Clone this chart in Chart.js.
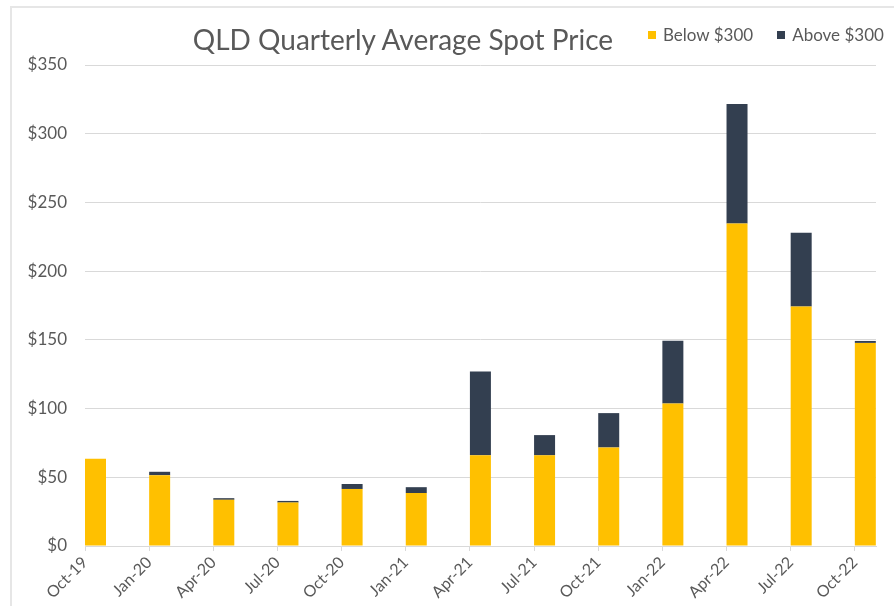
<!DOCTYPE html>
<html>
<head>
<meta charset="utf-8">
<script src="https://cdn.jsdelivr.net/npm/chart.js@4"></script>
<style>
    body { margin: 0; background: #fff; font-family: Lato, "Open Sans", sans-serif; }
    .frame { position: absolute; left: 10px; top: 6px; width: 884px; height: 600px; border-left: 2px solid #e6e6e6; border-top: 2px solid #e6e6e6; }
    .wrap { position: absolute; left: 0; top: 0; width: 894px; height: 606px; }
    .title { position: absolute; left: 173px; top: 22px; width: 460px; text-align: center; font-size: 28px; color: #595959; white-space: nowrap; }
    .legend { position: absolute; top: 24px; left: 648px; display: flex; font-size: 17px; color: #595959; }
    .legend-item { display: flex; align-items: center; margin-right: 24px; }
    .legend-item:last-child { margin-right: 0; }
    .legend-box { width: 8px; height: 8px; margin-right: 7px; }
</style>
</head>
<body>
<div class="frame"></div>
<div class="wrap">
    <canvas id="chart" width="894" height="606"></canvas>
</div>
<div class="title">QLD Quarterly Average Spot Price</div>
<div class="legend"></div>
<script>
let quarters = ['Oct-19', 'Jan-20', 'Apr-20', 'Jul-20', 'Oct-20', 'Jan-21', 'Apr-21', 'Jul-21', 'Oct-21', 'Jan-22', 'Apr-22', 'Jul-22', 'Oct-22'];
let belowValues = [63.5, 51.5, 33.6, 31.6, 41.5, 38.5, 66, 66, 71.7, 103.6, 234.6, 174.2, 147.8];
let aboveValues = [0, 2.5, 1.2, 1.2, 3.6, 4.3, 61, 14.7, 25, 45.7, 87.1, 53.7, 1.4];
let yTicks = [0, 50, 100, 150, 200, 250, 300, 350];

let yellow = '#FFC000';
let navy = '#333F50';
let grey = '#595959';
let gridColor = '#d9d9d9';

// bars sit to the right of their date tick, like an excel date axis
let shiftBars = {
    id: 'shiftBars',
    beforeDatasetsDraw(chart) {
        let bar = chart.getDatasetMeta(0).data[0];
        chart.ctx.save();
        chart.ctx.translate(bar.width / 2, 0);
    },
    afterDatasetsDraw(chart) {
        chart.ctx.restore();
    }
};

let toPoints = values => values.map((v, i) => ({ x: i, y: v }));

const myChart = new Chart(document.getElementById('chart'), {
    type: 'bar',
    data: {
        datasets: [
            { label: 'Below $300', data: toPoints(belowValues), backgroundColor: yellow, barThickness: 21, clip: false, inflateAmount: 0 },
            { label: 'Above $300', data: toPoints(aboveValues), backgroundColor: navy, barThickness: 21, clip: false, inflateAmount: 0 }
        ]
    },
    options: {
        responsive: false,
        animation: false,
        layout: { padding: { left: 0, right: 18, top: 65, bottom: 0 } },
        plugins: {
            legend: { display: false },
            title: { display: false },
            tooltip: { enabled: false }
        },
        scales: {
            x: {
                type: 'linear',
                stacked: true,
                offset: false,
                min: 0,
                max: quarters.length - 1 + 0.33,
                afterFit: scale => { scale.height = 60; },
                border: { color: gridColor },
                grid: { drawOnChartArea: false, drawTicks: true, tickLength: 5, color: gridColor, offset: false },
                ticks: {
                    stepSize: 1,
                    includeBounds: false,
                    autoSkip: false,
                    minRotation: 45,
                    maxRotation: 45,
                    padding: 2,
                    color: grey,
                    font: { family: 'Lato', size: 16 },
                    callback: v => quarters[v]
                }
            },
            y: {
                stacked: true,
                min: yTicks[0],
                max: yTicks[yTicks.length - 1],
                afterFit: scale => { scale.width = 85; },
                afterBuildTicks: scale => { scale.ticks = yTicks.map(v => ({ value: v })); },
                border: { display: false },
                grid: { color: gridColor, drawTicks: false },
                ticks: {
                    padding: 18,
                    color: grey,
                    font: { family: 'Lato', size: 17 },
                    callback: v => '$' + v
                }
            }
        }
    },
    plugins: [shiftBars]
});

// html legend built from the datasets
let legend = document.querySelector('.legend');
myChart.data.datasets.forEach(ds => {
    let item = document.createElement('div');
    item.className = 'legend-item';
    item.innerHTML = `<span class="legend-box" style="background:${ds.backgroundColor}"></span><span>${ds.label}</span>`;
    legend.appendChild(item);
});
</script>
</body>
</html>
